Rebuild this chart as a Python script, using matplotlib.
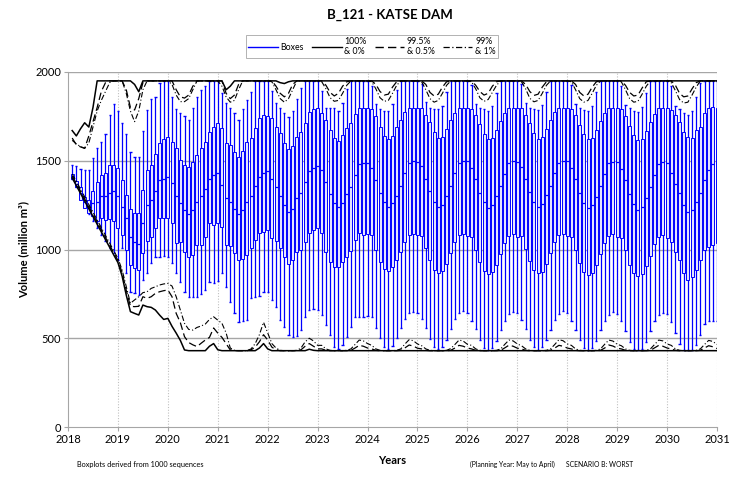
import numpy as np
import matplotlib.pyplot as plt
from matplotlib.lines import Line2D

plt.rcParams['font.family'] = ['Lato', 'DejaVu Sans']

# one row per calendar year 2018..2030, 12 monthly boxes each
years = list(range(2018, 2032))

box_hi = [
    [1476, 1470, 1455, 1448, 1448, 1517, 1570, 1607, 1650, 1758, 1818, 1782],
    [1714, 1650, 1551, 1521, 1521, 1669, 1786, 1850, 1857, 1940, 1950, 1950],
    [1857, 1790, 1767, 1750, 1730, 1800, 1860, 1900, 1920, 1950, 1950, 1950],
    [1880, 1823, 1795, 1767, 1730, 1790, 1842, 1889, 1950, 1950, 1950, 1950],
    [1895, 1823, 1795, 1771, 1745, 1780, 1850, 1908, 1950, 1950, 1950, 1950],
    [1895, 1800, 1795, 1795, 1780, 1823, 1904, 1950, 1950, 1950, 1950, 1950],
    [1920, 1820, 1790, 1780, 1780, 1820, 1900, 1950, 1950, 1950, 1950, 1950],
    [1930, 1830, 1800, 1790, 1790, 1810, 1890, 1950, 1950, 1950, 1950, 1950],
    [1925, 1820, 1800, 1790, 1780, 1810, 1880, 1950, 1950, 1950, 1950, 1950],
    [1930, 1825, 1800, 1790, 1785, 1815, 1890, 1950, 1950, 1950, 1950, 1950],
    [1925, 1820, 1800, 1785, 1780, 1810, 1885, 1950, 1950, 1950, 1950, 1950],
    [1920, 1815, 1795, 1780, 1775, 1805, 1880, 1950, 1950, 1950, 1950, 1950],
    [1920, 1810, 1790, 1770, 1760, 1780, 1860, 1940, 1950, 1950, 1950, 1950],
]
box_q3 = [
    [1425, 1388, 1354, 1297, 1280, 1330, 1382, 1420, 1433, 1476, 1476, 1460],
    [1392, 1307, 1228, 1205, 1205, 1335, 1448, 1476, 1540, 1598, 1621, 1636],
    [1607, 1570, 1504, 1476, 1463, 1495, 1532, 1570, 1607, 1664, 1692, 1711],
    [1683, 1598, 1590, 1551, 1523, 1557, 1607, 1626, 1683, 1739, 1758, 1750],
    [1739, 1688, 1655, 1598, 1564, 1583, 1636, 1660, 1711, 1777, 1790, 1795],
    [1771, 1730, 1673, 1630, 1611, 1645, 1683, 1711, 1763, 1795, 1795, 1795],
    [1790, 1750, 1690, 1640, 1620, 1640, 1690, 1730, 1775, 1800, 1800, 1800],
    [1795, 1760, 1720, 1660, 1630, 1635, 1680, 1730, 1770, 1800, 1800, 1800],
    [1790, 1755, 1705, 1650, 1620, 1630, 1675, 1725, 1770, 1800, 1800, 1800],
    [1795, 1760, 1710, 1655, 1625, 1635, 1680, 1730, 1775, 1800, 1800, 1800],
    [1790, 1755, 1700, 1650, 1620, 1630, 1675, 1725, 1770, 1800, 1800, 1800],
    [1790, 1750, 1695, 1645, 1615, 1625, 1670, 1720, 1765, 1800, 1800, 1800],
    [1786, 1758, 1720, 1664, 1636, 1626, 1673, 1692, 1767, 1795, 1805, 1795],
]
box_med = [
    [1410, 1370, 1320, 1265, 1245, 1260, 1270, 1300, 1300, 1320, 1330, 1300],
    [1240, 1180, 1070, 1040, 1030, 1150, 1250, 1280, 1330, 1390, 1400, 1410],
    [1373, 1300, 1260, 1220, 1200, 1220, 1270, 1300, 1340, 1400, 1420, 1430],
    [1363, 1290, 1270, 1230, 1200, 1220, 1270, 1300, 1360, 1410, 1430, 1440],
    [1400, 1350, 1300, 1250, 1210, 1230, 1290, 1320, 1380, 1440, 1460, 1470],
    [1450, 1380, 1310, 1260, 1240, 1260, 1310, 1350, 1420, 1480, 1490, 1490],
    [1460, 1390, 1320, 1270, 1240, 1260, 1300, 1360, 1430, 1490, 1500, 1495],
    [1470, 1400, 1330, 1270, 1240, 1250, 1300, 1360, 1430, 1490, 1500, 1500],
    [1460, 1395, 1320, 1265, 1235, 1250, 1300, 1355, 1425, 1485, 1500, 1495],
    [1465, 1400, 1325, 1270, 1240, 1255, 1305, 1360, 1430, 1490, 1500, 1500],
    [1460, 1395, 1320, 1262, 1235, 1250, 1298, 1355, 1425, 1485, 1495, 1495],
    [1455, 1390, 1315, 1255, 1225, 1240, 1290, 1350, 1420, 1480, 1495, 1490],
    [1430, 1370, 1320, 1250, 1210, 1220, 1270, 1320, 1390, 1450, 1480, 1490],
]
box_q1 = [
    [1397, 1352, 1280, 1234, 1206, 1190, 1160, 1180, 1166, 1170, 1160, 1121],
    [1082, 1000, 913, 896, 885, 980, 1050, 1072, 1119, 1176, 1176, 1176],
    [1147, 1035, 1040, 988, 959, 970, 1025, 1025, 1070, 1147, 1140, 1147],
    [1128, 1025, 1020, 978, 941, 945, 969, 1007, 1054, 1091, 1100, 1110],
    [1063, 1050, 1007, 959, 918, 941, 988, 1000, 1044, 1091, 1110, 1120],
    [1091, 988, 931, 903, 903, 931, 959, 990, 1054, 1091, 1080, 1085],
    [1080, 1000, 930, 890, 880, 900, 940, 985, 1040, 1080, 1085, 1080],
    [1075, 1010, 940, 885, 866, 880, 920, 980, 1040, 1080, 1090, 1075],
    [1070, 1000, 930, 880, 860, 875, 915, 975, 1035, 1075, 1085, 1070],
    [1075, 1005, 935, 885, 865, 875, 920, 980, 1040, 1080, 1090, 1075],
    [1070, 1000, 925, 875, 858, 870, 912, 972, 1035, 1075, 1085, 1070],
    [1065, 995, 915, 865, 848, 860, 905, 965, 1030, 1070, 1080, 1065],
    [1044, 988, 941, 866, 828, 847, 884, 941, 997, 1016, 1025, 1035],
]
box_lo = [
    [1395, 1350, 1300, 1250, 1200, 1160, 1120, 1080, 1050, 1010, 980, 940],
    [1008, 868, 762, 755, 745, 828, 868, 924, 959, 959, 965, 959],
    [922, 866, 819, 762, 734, 734, 734, 750, 772, 819, 810, 825],
    [866, 790, 706, 640, 593, 599, 603, 725, 734, 740, 762, 760],
    [716, 678, 603, 565, 518, 509, 512, 546, 621, 660, 663, 660],
    [631, 575, 518, 452, 438, 462, 509, 565, 621, 620, 620, 625],
    [620, 560, 500, 450, 440, 455, 500, 560, 610, 640, 650, 640],
    [610, 555, 495, 452, 440, 450, 490, 550, 610, 640, 655, 640],
    [600, 550, 490, 445, 435, 445, 485, 545, 600, 635, 650, 640],
    [605, 550, 492, 448, 436, 448, 488, 548, 605, 638, 652, 642],
    [600, 545, 488, 444, 434, 444, 484, 544, 600, 632, 648, 638],
    [595, 540, 480, 440, 432, 440, 478, 540, 595, 630, 645, 635],
    [590, 530, 470, 436, 432, 436, 460, 520, 580, 600, 600, 600],
]

# exceedance envelopes
pct_100 = [
    [1670, 1640, 1680, 1714, 1690, 1800, 1950, 1950, 1950, 1950, 1950, 1950],
    [1950, 1950, 1950, 1930, 1889, 1950, 1950, 1950, 1950, 1950, 1950, 1950],
    [1950, 1950, 1950, 1950, 1950, 1950, 1950, 1950, 1950, 1950, 1950, 1950],
    [1950, 1900, 1920, 1950, 1950, 1950, 1950, 1950, 1950, 1950, 1950, 1950],
    [1950, 1950, 1940, 1935, 1945, 1950, 1950, 1950, 1950, 1950, 1950, 1950],
    [1950, 1950, 1950, 1950, 1950, 1950, 1950, 1950, 1950, 1950, 1950, 1950],
    [1950, 1950, 1950, 1950, 1950, 1950, 1950, 1950, 1950, 1950, 1950, 1950],
    [1950, 1950, 1950, 1950, 1950, 1950, 1950, 1950, 1950, 1950, 1950, 1950],
    [1950, 1950, 1950, 1950, 1950, 1950, 1950, 1950, 1950, 1950, 1950, 1950],
    [1950, 1950, 1950, 1950, 1950, 1950, 1950, 1950, 1950, 1950, 1950, 1950],
    [1950, 1950, 1950, 1950, 1950, 1950, 1950, 1950, 1950, 1950, 1950, 1950],
    [1950, 1950, 1950, 1950, 1950, 1950, 1950, 1950, 1950, 1950, 1950, 1950],
    [1950, 1950, 1950, 1950, 1950, 1950, 1950, 1950, 1950, 1950, 1950, 1950],
]
pct_995 = [
    [1628, 1590, 1578, 1570, 1640, 1720, 1800, 1890, 1940, 1950, 1950, 1950],
    [1950, 1900, 1800, 1786, 1850, 1940, 1950, 1950, 1950, 1950, 1950, 1950],
    [1950, 1900, 1860, 1853, 1870, 1920, 1950, 1950, 1950, 1950, 1950, 1950],
    [1950, 1880, 1850, 1870, 1930, 1950, 1950, 1950, 1950, 1950, 1950, 1950],
    [1950, 1920, 1880, 1860, 1880, 1930, 1950, 1950, 1950, 1950, 1950, 1950],
    [1950, 1925, 1885, 1865, 1880, 1920, 1945, 1950, 1950, 1950, 1950, 1950],
    [1950, 1930, 1890, 1870, 1875, 1915, 1945, 1950, 1950, 1950, 1950, 1950],
    [1950, 1930, 1885, 1865, 1875, 1915, 1945, 1950, 1950, 1950, 1950, 1950],
    [1950, 1925, 1890, 1870, 1880, 1920, 1945, 1950, 1950, 1950, 1950, 1950],
    [1950, 1930, 1890, 1868, 1875, 1915, 1945, 1950, 1950, 1950, 1950, 1950],
    [1950, 1930, 1885, 1865, 1875, 1915, 1945, 1950, 1950, 1950, 1950, 1950],
    [1950, 1925, 1885, 1865, 1870, 1910, 1945, 1950, 1950, 1950, 1950, 1950],
    [1950, 1925, 1880, 1860, 1865, 1905, 1940, 1950, 1950, 1950, 1950, 1950],
]
pct_99 = [
    [1615, 1595, 1580, 1570, 1600, 1690, 1780, 1840, 1890, 1940, 1950, 1950],
    [1950, 1880, 1780, 1720, 1780, 1900, 1950, 1950, 1950, 1950, 1950, 1950],
    [1930, 1870, 1833, 1833, 1850, 1900, 1950, 1950, 1950, 1950, 1950, 1950],
    [1920, 1860, 1830, 1840, 1900, 1950, 1950, 1950, 1950, 1950, 1950, 1950],
    [1945, 1900, 1850, 1830, 1850, 1900, 1950, 1950, 1950, 1950, 1950, 1950],
    [1945, 1905, 1855, 1835, 1840, 1880, 1925, 1950, 1950, 1950, 1950, 1950],
    [1945, 1905, 1855, 1835, 1840, 1880, 1925, 1950, 1950, 1950, 1950, 1950],
    [1945, 1900, 1850, 1830, 1840, 1880, 1925, 1950, 1950, 1950, 1950, 1950],
    [1945, 1905, 1855, 1835, 1845, 1885, 1925, 1950, 1950, 1950, 1950, 1950],
    [1945, 1905, 1852, 1832, 1840, 1880, 1925, 1950, 1950, 1950, 1950, 1950],
    [1945, 1900, 1850, 1830, 1840, 1880, 1925, 1950, 1950, 1950, 1950, 1950],
    [1945, 1900, 1850, 1830, 1835, 1875, 1920, 1950, 1950, 1950, 1950, 1950],
    [1940, 1895, 1845, 1825, 1830, 1870, 1915, 1950, 1950, 1950, 1950, 1950],
]
pct_1 = [
    [1425, 1385, 1340, 1297, 1253, 1210, 1167, 1123, 1080, 1036, 993, 950],
    [885, 790, 697, 716, 734, 757, 762, 781, 790, 800, 806, 809],
    [794, 734, 659, 584, 550, 546, 561, 569, 580, 606, 621, 602],
    [584, 530, 445, 432, 430, 430, 430, 440, 470, 520, 590, 530],
    [470, 445, 432, 430, 430, 430, 432, 445, 480, 500, 485, 460],
    [460, 440, 432, 430, 430, 430, 432, 440, 465, 490, 485, 470],
    [460, 440, 432, 430, 430, 430, 432, 440, 468, 492, 486, 468],
    [458, 440, 432, 430, 430, 430, 432, 442, 465, 490, 484, 466],
    [460, 440, 432, 430, 430, 430, 432, 440, 466, 490, 485, 468],
    [458, 440, 432, 430, 430, 430, 432, 440, 465, 492, 486, 468],
    [460, 440, 432, 430, 430, 430, 432, 440, 466, 490, 484, 466],
    [458, 440, 432, 430, 430, 430, 432, 440, 465, 490, 485, 468],
    [460, 440, 432, 430, 430, 430, 432, 440, 465, 488, 482, 465],
]
pct_05 = [
    [1415, 1372, 1328, 1285, 1241, 1198, 1155, 1111, 1068, 1024, 981, 938],
    [870, 770, 680, 678, 680, 734, 725, 734, 753, 762, 768, 772],
    [734, 640, 588, 509, 476, 463, 453, 472, 490, 505, 558, 529],
    [505, 470, 434, 430, 430, 430, 430, 435, 450, 480, 520, 490],
    [450, 435, 430, 430, 430, 430, 430, 435, 455, 470, 455, 440],
    [440, 432, 430, 430, 430, 430, 430, 432, 445, 460, 455, 445],
    [440, 432, 430, 430, 430, 430, 430, 432, 446, 462, 456, 444],
    [440, 432, 430, 430, 430, 430, 430, 432, 445, 460, 455, 445],
    [440, 432, 430, 430, 430, 430, 430, 432, 446, 461, 455, 444],
    [440, 432, 430, 430, 430, 430, 430, 432, 445, 460, 455, 445],
    [440, 432, 430, 430, 430, 430, 430, 432, 445, 462, 456, 444],
    [440, 432, 430, 430, 430, 430, 430, 432, 446, 460, 455, 445],
    [440, 432, 430, 430, 430, 430, 430, 432, 445, 458, 452, 442],
]
pct_0 = [
    [1403, 1360, 1316, 1273, 1229, 1186, 1143, 1099, 1056, 1012, 969, 926],
    [850, 743, 650, 640, 631, 687, 678, 674, 659, 631, 606, 612],
    [567, 529, 488, 434, 430, 430, 430, 430, 430, 455, 470, 435],
    [430, 430, 430, 430, 430, 430, 430, 430, 430, 445, 470, 440],
    [430, 430, 430, 430, 430, 430, 430, 430, 430, 438, 432, 430],
    [430, 430, 430, 430, 430, 430, 430, 430, 430, 430, 430, 430],
    [430, 430, 430, 430, 430, 430, 430, 430, 430, 430, 430, 430],
    [430, 430, 430, 430, 430, 430, 430, 430, 430, 430, 430, 430],
    [430, 430, 430, 430, 430, 430, 430, 430, 430, 430, 430, 430],
    [430, 430, 430, 430, 430, 430, 430, 430, 430, 430, 430, 430],
    [430, 430, 430, 430, 430, 430, 430, 430, 430, 430, 430, 430],
    [430, 430, 430, 430, 430, 430, 430, 430, 430, 430, 430, 430],
    [430, 430, 430, 430, 430, 430, 430, 430, 430, 430, 430, 430],
]

hi = np.ravel(box_hi)
q3 = np.ravel(box_q3)
med = np.ravel(box_med)
q1 = np.ravel(box_q1)
lo = np.ravel(box_lo)
# month-end positions in decimal years
x = years[0] + (np.arange(len(q3)) + 1) / 12.0

blue = '#0000ff'
fig = plt.figure(figsize=(7.5, 4.8), dpi=100)
ax = fig.add_axes([0.0907, 0.1104, 0.8653, 0.7396])

bw = 0.06
cap = 0.045
ax.vlines(x, lo, hi, color=blue, lw=0.9, zorder=2)
ax.hlines(hi, x - cap / 2, x + cap / 2, color=blue, lw=1.0, zorder=2)
ax.hlines(lo, x - cap / 2, x + cap / 2, color=blue, lw=1.0, zorder=2)
ax.bar(x, q3 - q1, bottom=q1, width=bw, facecolor='#e4e4ff',
       edgecolor=blue, linewidth=0.7, zorder=3)
ax.hlines(med, x - bw / 2, x + bw / 2, color=blue, lw=0.9, zorder=3)

ax.plot(x, np.ravel(pct_100), color='black', lw=1.1, zorder=4)
ax.plot(x, np.ravel(pct_0), color='black', lw=1.1, zorder=4)
ax.plot(x, np.ravel(pct_995), color='black', lw=0.9, dashes=(6, 3), zorder=4)
ax.plot(x, np.ravel(pct_05), color='black', lw=0.9, dashes=(6, 3), zorder=4)
ax.plot(x, np.ravel(pct_99), color='black', lw=0.8, dashes=(5, 2, 1, 2), zorder=4)
ax.plot(x, np.ravel(pct_1), color='black', lw=0.8, dashes=(5, 2, 1, 2), zorder=4)

ax.set_xlim(2018, 2031)
ax.set_ylim(0, 2000)
ax.set_xticks(years)
ax.set_xticklabels([str(y) for y in years], fontsize=8)
ax.set_yticks(range(0, 2001, 500))
ax.set_yticklabels([str(v) for v in range(0, 2001, 500)], fontsize=8)
for y in range(500, 2001, 500):
    ax.axhline(y, color='#a6a6a6', lw=1.0, zorder=1)
for yr in years[1:]:
    ax.axvline(yr, color='#c0c0c0', lw=0.8, ls=(0, (1, 1.5)), zorder=1)
for side in ['top', 'right']:
    ax.spines[side].set_visible(False)
for side in ['left', 'bottom']:
    ax.spines[side].set_color('#a6a6a6')
ax.tick_params(axis='both', color='#a6a6a6', length=3, pad=2)

ax.set_xlabel('Years', fontsize=8, fontweight='bold', labelpad=7)
ax.set_ylabel('Volume (million m³)', fontsize=8, fontweight='bold', labelpad=4)
fig.text(0.52, 0.968, 'B_121 - KATSE DAM', ha='center', va='center',
         fontsize=9.5, fontweight='bold')

handles = [
    Line2D([], [], color=blue, lw=1.0),
    Line2D([], [], color='black', lw=1.0),
    Line2D([], [], color='black', lw=1.0, dashes=(6, 3)),
    Line2D([], [], color='black', lw=0.9, dashes=(5, 2, 1, 2)),
]
labels = ['Boxes', '100%\n& 0%', '99.5%\n& 0.5%', '99%\n& 1%']
leg = fig.legend(handles, labels, loc='center', bbox_to_anchor=(0.496, 0.903),
                 ncol=4, fontsize=6.3, frameon=True, fancybox=False,
                 edgecolor='#909090', handlelength=3.4, handletextpad=0.3,
                 columnspacing=0.9, borderpad=0.25, labelspacing=0.2)
leg.get_frame().set_linewidth(0.6)

fig.text(0.103, 0.027, 'Boxplots derived from 1000 sequences', fontsize=5.3)
fig.text(0.627, 0.027, '(Planning Year: May to April)', fontsize=4.9)
fig.text(0.755, 0.027, 'SCENARIO B: WORST', fontsize=4.9)

fig.savefig('out.png', dpi=100)
